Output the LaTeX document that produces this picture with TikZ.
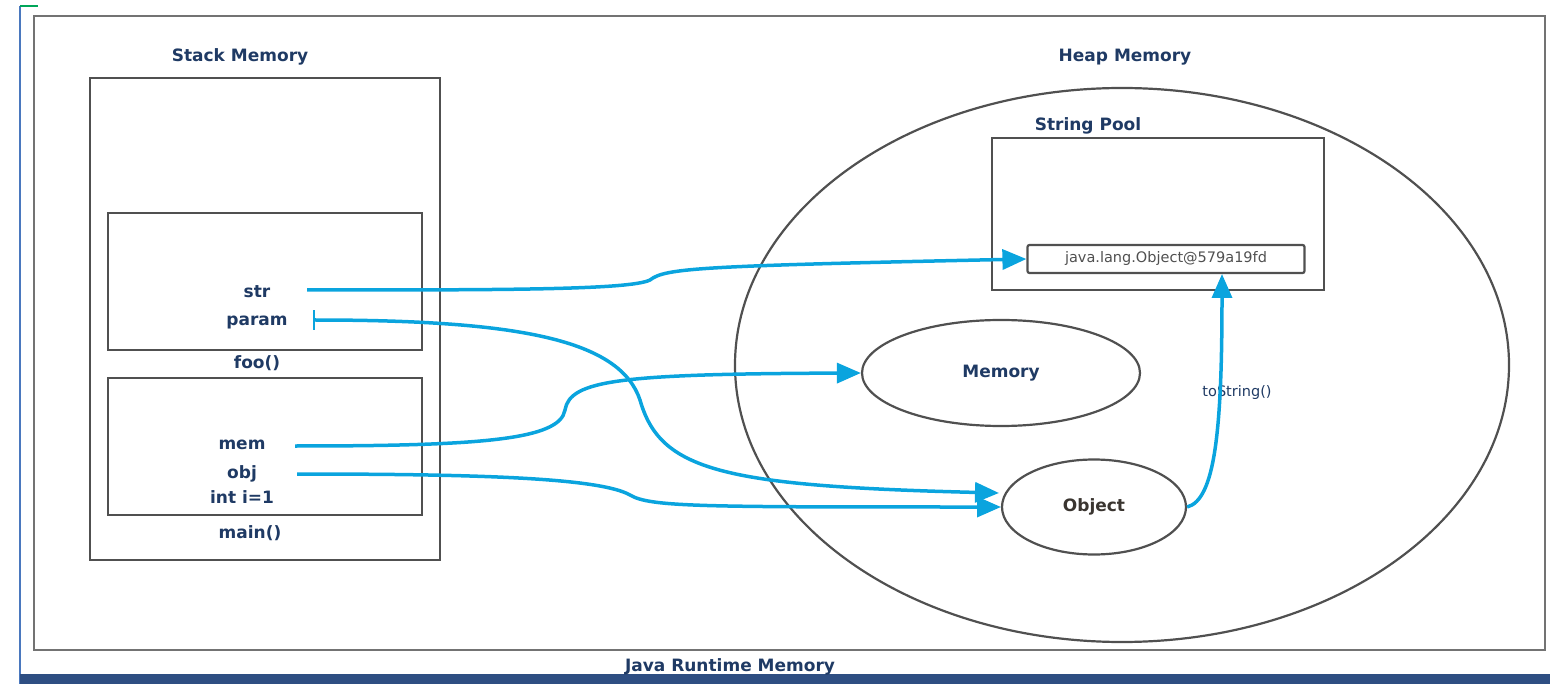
\documentclass[tikz,border=0pt]{standalone}
\usepackage{fontspec}
\setmainfont{DejaVu Sans}
\usetikzlibrary{arrows.meta,shapes.geometric}
\definecolor{navy}{HTML}{1F3A64}
\definecolor{frame}{HTML}{505050}
\definecolor{cyanline}{HTML}{0AA4DE}
\definecolor{barblue}{HTML}{2E4E82}
\definecolor{sideblue}{HTML}{4A78BE}
\definecolor{objtxt}{HTML}{3A3530}
\tikzset{
  box/.style={draw=frame, line width=2.2pt},
  lbl/.style={text=navy, font=\fontsize{17}{19}\selectfont\bfseries, inner sep=0pt},
  ell/.style={draw=frame, line width=2.2pt, ellipse},
  conn/.style={draw=cyanline, line width=3.5pt, -{Triangle[length=24pt,width=20pt]}},
}
\begin{document}
\begin{tikzpicture}[x=1pt,y=-1pt]
\useasboundingbox (0,0) rectangle (1550,684);
% frame decorations
\draw[draw=sideblue, line width=2.5pt] (20,6) -- (20,684);
\draw[draw=teal!70!green, line width=2.5pt] (20,6) -- (38,6);
\fill[barblue] (20,674) rectangle (1550,684);
\draw[draw=frame!80, line width=2.5pt] (34,16) rectangle (1545,650);
\node[lbl] (jrm) at (730,667) {Java Runtime Memory};
% stack
\node[lbl] (stackT) at (240,57) {Stack Memory};
\draw[box] (90,78) rectangle (440,560);
\draw[box] (108,213) rectangle (422,350);
\draw[box] (108,378) rectangle (422,515);
\node[lbl] (foo) at (257,363) {foo()};
\node[lbl] (main) at (250,533) {main()};
\node[lbl] (str) at (257,292) {str};
\node[lbl] (param) at (257,323) {param};
\node[lbl] (mem) at (242,445) {mem};
\node[lbl] (obj) at (242,474) {obj};
\node[lbl] (inti) at (242,497) {int i=1};
% heap
\node[lbl] (heapT) at (1125,57) {Heap Memory};
\node[ell, minimum width=774pt, minimum height=554pt, inner sep=0pt] (heap) at (1122,365) {};
\node[lbl] (poolT) at (1088,126) {String Pool};
\draw[box] (992,138) rectangle (1324,290);
\node[draw=frame, line width=2.2pt, rounded corners=2pt, minimum width=277pt, minimum height=28pt, inner sep=0pt,
      font=\fontsize{14.5}{16}\selectfont, text=frame] (jobj) at (1166,259) {java.lang.Object@579a19fd};
\node[ell, minimum width=278pt, minimum height=106pt, inner sep=0pt, lbl] (memory) at (1001,373) {Memory};
\node[ell, minimum width=184pt, minimum height=95pt, inner sep=0pt, lbl, text=objtxt] (object) at (1094,507) {Object};
\node[font=\fontsize{14.5}{16}\selectfont, text=navy, inner sep=0pt] (tostr) at (1237,393) {toString()};
% connectors
\coordinate (strS) at (307,290);
\coordinate (paramS) at (313,320);
\coordinate (memS) at (295,446);
\coordinate (objS) at (297,474);
\coordinate (objE1) at (999,493);
\coordinate (objE2) at (1001,507);
\coordinate (poolIn) at (1222,274);
\path[conn] (strS) .. controls (500,290) and (630,290) .. (650,280)
  .. controls (665,268) and (700,266) .. (jobj.west);
\path[conn, {Bar[width=20pt,line width=2pt]}-{Triangle[length=24pt,width=20pt]}] (paramS) .. controls (520,320) and (620,340) .. (640,400)
  .. controls (660,470) and (720,486) .. (objE1);
\path[conn] (memS) .. controls (480,446) and (560,440) .. (565,410)
  .. controls (570,380) and (620,374) .. (memory.west);
\path[conn] (objS) .. controls (480,474) and (600,478) .. (630,495)
  .. controls (650,507) and (700,507) .. (objE2);
\path[conn] (object.east) .. controls (1215,500) and (1222,430) .. (poolIn);
\end{tikzpicture}
\end{document}
